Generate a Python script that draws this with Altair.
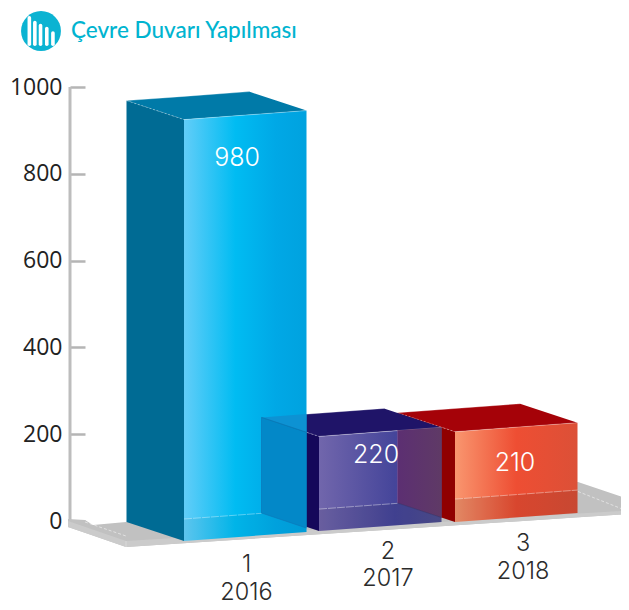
import altair as alt
import pandas as pd

# ---- data ----
title_text = "Çevre Duvarı Yapılması"
category_numbers = ["1", "2", "3"]
years = ["2016", "2017", "2018"]
values = [980, 220, 210]
value_labels = ["980", "220", "210"]
y_ticks = [0, 200, 400, 600, 800, 1000]
icon_bar_tops = [11.7, 16.7, 20, 23.3, 28.3]

# ---- layout ----
W, H = 613, 598
AXIS_K = 0.434          # px per unit on the axis
BAR_K = 0.43            # px per unit on the bars (perspective)
ZERO_PY = 521


def v(py):
    return (ZERO_PY - py) / AXIS_K


X_SCALE = alt.Scale(domain=[8, 8 + W], range=[0, W], nice=False, zero=False)
Y_SCALE = alt.Scale(domain=[v(8 + H), v(8)], range=[H, 0], nice=False, zero=False)
AXIS = alt.Axis(
    orient="right",
    offset=70 - 8 - W,
    values=y_ticks,
    format="d",
    domain=False,
    grid=False,
    title=None,
    tickSize=15,
    tickWidth=2.5,
    tickColor="#b5b5b5",
    labelAlign="right",
    labelBaseline="middle",
    labelPadding=-23,
    labelFont="Open Sans",
    labelFontSize=23,
    labelColor="#222222",
    labelOverlap=False,
    labelFlush=False,
)
X = alt.X("x:Q", scale=X_SCALE, axis=None)
Y = alt.Y("y:Q", scale=Y_SCALE, axis=AXIS, stack=None)
Y2 = alt.Y2("y2:Q")

layers = []


def hgrad(*stops):
    return alt.LinearGradient(
        gradient="linear", x1=0, x2=1, y1=0, y2=0,
        stops=[alt.GradientStop(offset=o, color=c) for o, c in stops],
    )


def face(points, fill, opacity=1.0):
    xs = sorted({p[0] for p in points})
    rows = []
    n = len(points)
    for x in xs:
        ys = []
        for i in range(n):
            (x1, y1), (x2, y2) = points[i], points[(i + 1) % n]
            if min(x1, x2) <= x <= max(x1, x2):
                if x1 == x2:
                    ys += [y1, y2]
                else:
                    ys.append(y1 + (y2 - y1) * (x - x1) / (x2 - x1))
        rows.append({"x": x, "y": v(min(ys)), "y2": v(max(ys))})
    layers.append(
        alt.Chart(pd.DataFrame(rows))
        .mark_area(color=fill, opacity=opacity, orient="vertical", interpolate="linear")
        .encode(x=X, y=Y, y2=Y2)
    )


def edge(p, q, color="#ffffff", width=1.0, opacity=0.45, dash=None):
    kw = dict(color=color, strokeWidth=width, opacity=opacity)
    if dash:
        kw["strokeDash"] = dash
    layers.append(
        alt.Chart(pd.DataFrame([{"x": p[0], "y": v(p[1]), "x2": q[0], "y2": v(q[1])}]))
        .mark_rule(**kw)
        .encode(x=X, y=Y, x2=alt.X2("x2:Q"), y2=Y2)
    )


# bar geometry
FRONT_X = [184, 319, 455]
BASE_Y = [541, 531, 522]
BW, BS = 122.5, -9.0
DX, DY = -57.5, -19.0
SIDE_COL = ["#006b94", "#15085a", "#900000"]
TOP_COL = ["#007aa8", "#1f1468", "#a50208"]
FRONT_COL = [
    hgrad((0, "#62cdf8"), (0.42, "#00bcf2"), (0.75, "#00a8e6"), (1, "#00a2df")),
    hgrad((0, "#7166ac"), (0.62, "#45459a"), (1, "#4f4f90")),
    hgrad((0, "#f9966f"), (0.5, "#ee4e33"), (1, "#dc5037")),
]


def box(i):
    fx, by = FRONT_X[i], BASE_Y[i]
    h = values[i] * BAR_K
    return dict(
        fl_b=(fx, by), fr_b=(fx + BW, by + BS),
        fl_t=(fx, by - h), fr_t=(fx + BW, by + BS - h),
        bl_b=(fx + DX, by + DY), bl_t=(fx + DX, by + DY - h),
        br_t=(fx + BW + DX, by + BS + DY - h),
    )


def back_line(x):
    return 519 + BS / BW * (x - 184)


def draw_box(i):
    b = box(i)
    face([b["bl_t"], b["fl_t"], b["fl_b"], b["bl_b"]], SIDE_COL[i])
    face([b["bl_t"], b["br_t"], b["fr_t"], b["fl_t"]], TOP_COL[i])
    face([b["fl_t"], b["fr_t"], b["fr_b"], b["fl_b"]], FRONT_COL[i])
    edge(b["bl_t"], b["fl_t"], opacity=0.35, dash=[2, 2])
    edge(b["bl_t"], b["br_t"], opacity=0.3)
    edge(b["fl_t"], b["fr_t"], opacity=0.3)


# ---- axis line ----
axis_df = pd.DataFrame({"x": [70], "y": [y_ticks[0]], "y2": [y_ticks[-1]]})
layers.append(
    alt.Chart(axis_df)
    .mark_rule(color="#bdbdbd", strokeWidth=3)
    .encode(x=X, y=Y, y2=Y2)
)

# ---- floor ----
FLOOR = "#c1c1c1"
R = 8 + W
face([(68, 519), (85, 520), (93, 525), (578, 482), (R, 496.5), (R, 514.5), (126, 547), (68, 527)], FLOOR)
face([(68, 521), (126, 541), (R, 511), (R, 514.5), (126, 547), (68, 527)], "#cbcbcb")
edge((85, 522), (126, 536), opacity=0.5, dash=[3, 2])
edge((578, 491.5), (R, 508.5), opacity=0.5, dash=[3, 2])
edge((126, 541), (126, 547), opacity=0.3)

# ---- bars, back to front ----
draw_box(2)
b3 = box(2)
face([b3["fl_b"], b3["fr_b"], (b3["fr_b"][0], back_line(b3["fr_b"][0])), (b3["fl_b"][0], back_line(b3["fl_b"][0]))], "#000000", 0.09)
edge((455, back_line(455)), (577.5, back_line(577.5)), opacity=0.4, dash=[8, 1])

draw_box(1)
b2 = box(1)
face([(319, back_line(319)), (397.5, back_line(397.5)), (441.5, 517.5), b2["fr_b"], b2["fl_b"]], "#000000", 0.07)
edge((319, back_line(319)), (397.5, back_line(397.5)), opacity=0.4, dash=[8, 1])
# red side seen through the purple front
face([(397.5, 430.6), (441.5, 427.4), (441.5, 517.5), (397.5, 503)],
     hgrad((0, "#5c2f72"), (1, "#5f3a66")))
edge((397.5, 430.6), (397.5, 503), color="#8a5fa0", opacity=0.4)
edge((397.5, 503), (441.5, 517.5), color="#333366", opacity=0.5)

draw_box(0)
b1 = box(0)
face([(184, back_line(184)), (261.5, back_line(261.5)), (306.5, 528), b1["fr_b"], b1["fl_b"]], "#000000", 0.04)
edge((184, back_line(184)), (261.5, back_line(261.5)), opacity=0.35, dash=[8, 1])

# bar 2 side and top seen through the blue front
face([(261.5, 417.4), (306.5, 432.3), (306.5, 528), (261.5, 513)], "#0388c8")
face([(261.5, 417.4), (306.5, 414.1), (306.5, 432.3)], "#0d92d3")
edge((261.5, 417.4), (306.5, 432.3), color="#0b6ca8", opacity=0.7)
edge((261.5, 417.4), (261.5, 513), color="#0b78b8", opacity=0.7)
edge((261.5, 513), (306.5, 528), color="#0b78b8", opacity=0.7)

# ---- value labels ----
layers.append(
    alt.Chart(pd.DataFrame({"x": [237, 376, 515], "y": [v(158), v(455), v(463)], "t": value_labels}))
    .mark_text(font="Inter", fontSize=25, fontWeight=300, color="#ffffff", align="center", baseline="middle")
    .encode(x=X, y=Y, text="t:N")
)

# ---- category labels ----
cat_x = [246.5, 388, 523]
for txts, ys in ((category_numbers, [565, 552, 544]), (years, [593, 579, 572])):
    layers.append(
        alt.Chart(pd.DataFrame({"x": cat_x, "y": [v(p) for p in ys], "t": txts}))
        .mark_text(font="Inter", fontSize=23.5, fontWeight=300, color="#2b2b2b", align="center", baseline="middle")
        .encode(x=X, y=Y, text="t:N")
    )

# ---- title icon (kept inside the drawing area, whose top is at 8px) ----
ICON_R, ICON_CX, ICON_CY = 22.5, 41, 31
ICON_F = ICON_R / 24.5
layers.append(
    alt.Chart(pd.DataFrame({"x": [ICON_CX], "y": [v(ICON_CY)]}))
    .mark_circle(size=3.1416 * ICON_R ** 2, color="#0bb3d2", opacity=1)
    .encode(x=X, y=Y)
)
icon_x = [ICON_CX + (x - 41) * ICON_F for x in [28.3, 34.3, 40.5, 47.3, 54]]
layers.append(
    alt.Chart(pd.DataFrame({
        "x": icon_x,
        "y": [v(ICON_CY + (t - 26) * ICON_F) for t in icon_bar_tops],
        "y2": [v(ICON_CY + (40.5 - 26) * ICON_F)] * 5,
    }))
    .mark_rule(color="#ffffff", strokeWidth=3.6, strokeCap="round")
    .encode(x=X, y=Y, y2=Y2)
)

# ---- title text ----
layers.append(
    alt.Chart(pd.DataFrame({"x": [71], "y": [v(38)], "t": [title_text]}))
    .mark_text(font="Lato", fontSize=22.5, fontWeight=500, color="#00b4d0", align="left", baseline="alphabetic")
    .encode(x=X, y=Y, text="t:N")
)

chart = alt.layer(*layers).properties(
    width=W,
    height=H,
    padding=0,
    autosize=alt.AutoSizeParams(type="none"),
).configure_view(stroke=None)

chart.save("out.html", embed_options={"renderer": "svg", "actions": False})
